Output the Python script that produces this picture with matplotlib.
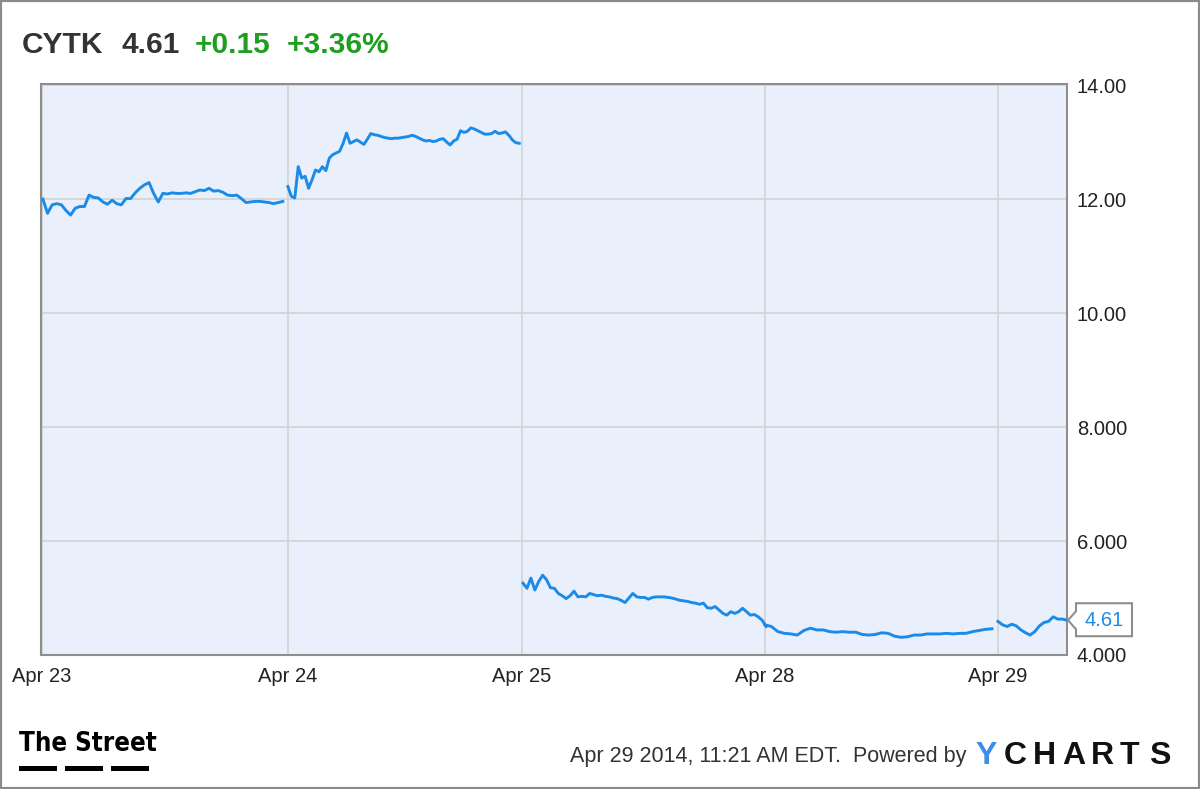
import numpy as np
import matplotlib.pyplot as plt
from matplotlib import font_manager
from matplotlib.patches import Rectangle, Polygon

ticker = "CYTK"
last_price = "4.61"
change = "+0.15"
change_pct = "+3.36%"
stamp = "Apr 29 2014, 11:21 AM EDT.  Powered by"

day_labels = ["Apr 23", "Apr 24", "Apr 25", "Apr 28", "Apr 29"]
# where each session begins / ends on the time axis (sessions are not equally wide)
day_start = [0.0, 1.029, 2.008, 3.025, 4.0]
first_pt = [0.004, 1.029, 2.013, 3.025, 4.0]
last_pt = [1.008, 1.997, 3.03, 3.975, 4.289]

apr23 = [12.00, 11.75, 11.90, 11.92, 11.90, 11.80, 11.72, 11.84, 11.87, 11.87,
         12.07, 12.03, 12.02, 11.95, 11.91, 11.98, 11.92, 11.90, 12.01, 12.01,
         12.11, 12.19, 12.25, 12.29, 12.10, 11.95, 12.10, 12.09, 12.11, 12.10,
         12.10, 12.11, 12.10, 12.13, 12.16, 12.15, 12.19, 12.14, 12.15, 12.12,
         12.07, 12.06, 12.07, 12.01, 11.94, 11.95, 11.96, 11.96, 11.95, 11.94,
         11.92, 11.94, 11.96]
apr24 = [12.22, 12.05, 12.02, 12.57, 12.37, 12.40, 12.19, 12.34, 12.51, 12.48,
         12.57, 12.50, 12.72, 12.78, 12.81, 12.84, 12.98, 13.16, 12.98, 13.01,
         13.04, 13.00, 12.96, 13.05, 13.15, 13.13, 13.12, 13.10, 13.08, 13.07,
         13.06, 13.07, 13.07, 13.08, 13.09, 13.10, 13.12, 13.10, 13.07, 13.04,
         13.02, 13.03, 13.01, 13.02, 13.05, 13.06, 13.00, 12.95, 13.02, 13.05,
         13.20, 13.17, 13.19, 13.25, 13.23, 13.20, 13.17, 13.14, 13.14, 13.15,
         13.19, 13.15, 13.16, 13.18, 13.12, 13.04, 12.99, 12.98]
apr25 = [5.26, 5.17, 5.35, 5.14, 5.29, 5.40, 5.32, 5.18, 5.17, 5.08,
         5.04, 4.99, 5.04, 5.12, 5.02, 5.03, 5.02, 5.08, 5.06, 5.04,
         5.05, 5.03, 5.02, 5.00, 4.99, 4.96, 4.92, 5.00, 5.08, 5.02,
         5.01, 5.01, 4.98, 5.01, 5.02, 5.02, 5.02, 5.01, 5.00, 4.98,
         4.96, 4.95, 4.94, 4.92, 4.91, 4.89, 4.91, 4.83, 4.82, 4.85,
         4.79, 4.73, 4.70, 4.76, 4.73, 4.76, 4.82, 4.76, 4.70, 4.71,
         4.67, 4.61, 4.50]
apr28 = [4.53, 4.50, 4.41, 4.38, 4.37, 4.35, 4.43, 4.47, 4.44, 4.44,
         4.41, 4.40, 4.41, 4.40, 4.40, 4.36, 4.35, 4.36, 4.39, 4.38,
         4.33, 4.31, 4.32, 4.35, 4.35, 4.37, 4.37, 4.37, 4.38, 4.37,
         4.38, 4.38, 4.41, 4.43, 4.45, 4.46]
apr29 = [4.59, 4.53, 4.50, 4.54, 4.51, 4.44, 4.39, 4.35, 4.41, 4.51,
         4.57, 4.59, 4.67, 4.63, 4.63, 4.61]
days = [apr23, apr24, apr25, apr28, apr29]

y_ticks = [4, 6, 8, 10, 12, 14]
y_labels = ["4.000", "6.000", "8.000", "10.00", "12.00", "14.00"]

W, H = 1200, 789
line_c = "#1a8be8"
green = "#1e9e1e"


def fx(x):
    return x / W


def fy(y):
    return 1 - y / H


plt.rcParams["font.family"] = ["Liberation Sans", "DejaVu Sans"]

# condensed face for the logo if one is installed
fonts = font_manager.fontManager.ttflist
narrow_kw = {"family": "Liberation Sans", "fontsize": 18}
if any(f.name == "Liberation Sans Narrow" for f in fonts):
    narrow_kw = {"family": "Liberation Sans Narrow", "fontsize": 22}
elif any(f.name == "DejaVu Sans" and f.stretch == "condensed" for f in fonts):
    narrow_kw = {"family": "DejaVu Sans", "fontstretch": "condensed", "fontsize": 18.5}

fig = plt.figure(figsize=(W / 100, H / 100), dpi=100)
ax = fig.add_axes([fx(41), fy(655), (1067 - 41) / W, (655 - 84) / H])
ax.set_facecolor("#eaf0fb")

for i, prices in enumerate(days):
    xs = np.linspace(first_pt[i], last_pt[i], len(prices))
    ax.plot(xs, prices, color=line_c, lw=2.1, solid_joinstyle="round", zorder=3)

ax.set_xlim(-0.004, 4.289)
ax.set_ylim(4.0, 14.02)
ax.set_xticks(day_start)
ax.set_xticklabels(day_labels)
ax.yaxis.tick_right()
ax.set_yticks(y_ticks)
ax.set_yticklabels(y_labels)
ax.tick_params(length=0, labelsize=14.5, colors="#222222")
ax.tick_params(axis="x", pad=9)
ax.tick_params(axis="y", pad=7)
ax.grid(color="#d2d2d2", lw=1.2)
ax.set_axisbelow(True)
for s in ax.spines.values():
    s.set_color("#8e8e8e")
    s.set_linewidth(1.5)

# header
hdr = dict(fontsize=21.5, fontweight="bold", va="baseline")
fig.text(fx(22), fy(53), ticker, color="#333333", **hdr)
fig.text(fx(121), fy(53), last_price, color="#333333", **hdr)
fig.text(fx(195), fy(53), change, color=green, **hdr)
fig.text(fx(287), fy(53), change_pct, color=green, **hdr)

# last price tag
ty = 655 - (float(last_price) - 4.0) * 57
tag = [(1068, ty), (1076, ty - 9), (1076, ty - 17), (1132, ty - 17),
       (1132, ty + 16), (1076, ty + 16), (1076, ty + 9)]
fig.patches.append(Polygon([(fx(x), fy(y)) for x, y in tag], closed=True,
                           transform=fig.transFigure, fc="white", ec="#8e8e8e", lw=1.5))
fig.text(fx(1104), fy(ty), last_price, fontsize=14.5, color=line_c, ha="center", va="center")

# footer
fig.text(fx(966), fy(762), stamp, fontsize=15.5, color="#333333", ha="right", va="baseline")
for k, ch in enumerate("YCHARTS"):
    fig.text(fx(975 + k * 29), fy(764), ch, fontsize=23, fontweight="bold",
             color="#3d8ee6" if k == 0 else "#111111", va="baseline")

fig.text(fx(19), fy(751), "The Street", fontweight="bold", color="black",
         va="baseline", **narrow_kw)
for x0 in [19, 65, 111]:
    fig.patches.append(Rectangle((fx(x0), fy(771)), 38 / W, 5 / H,
                                 transform=fig.transFigure, fc="black", ec="none"))

# outer frame
fig.patches.append(Rectangle((0, 0), 1, 1, transform=fig.transFigure, fill=False,
                             ec="#8a8a8a", lw=3))

fig.savefig("out.png", dpi=100)
